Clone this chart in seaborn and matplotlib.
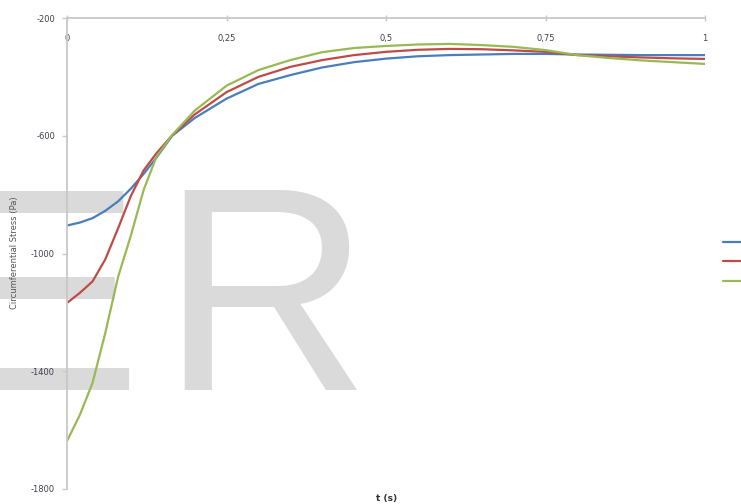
import numpy as np
import pandas as pd
import matplotlib
matplotlib.use("Agg")
import matplotlib.pyplot as plt
import seaborn as sns

# time (s) and circumferential stress (Pa)
t = [0, 0.02, 0.04, 0.06, 0.08, 0.1, 0.12, 0.14, 0.165, 0.2, 0.25, 0.3,
     0.35, 0.4, 0.45, 0.5, 0.55, 0.6, 0.65, 0.7, 0.75, 0.8, 0.85, 0.9, 0.95, 1.0]
blue = [-905, -895, -880, -855, -823, -780, -730, -675, -600, -540, -474, -424,
        -394, -368, -350, -338, -330, -326, -324, -322, -322, -324, -325, -326, -326, -326]
red = [-1168, -1134, -1095, -1020, -915, -805, -718, -660, -598, -528, -452, -400,
       -366, -343, -326, -315, -308, -305, -306, -310, -315, -326, -330, -334, -337, -339]
green = [-1637, -1549, -1440, -1270, -1080, -940, -785, -672, -597, -515, -430, -377,
         -343, -316, -302, -295, -290, -288, -292, -298, -309, -326, -336, -344, -350, -356]

cases = ["a", "b", "c"]
colors = ["#4a7ebb", "#be4b48", "#98b954"]

df = pd.concat([
    pd.DataFrame({"t": t, "stress": v, "case": c})
    for v, c in zip([blue, red, green], cases)
])

sns.set_style("white")
plt.rcParams["font.family"] = ["DejaVu Sans"]
plt.rcParams["axes.unicode_minus"] = False

fig = plt.figure(figsize=(7.41, 5.04), dpi=100)
ax = fig.add_axes([67/741, 1-489/504, (705-67)/741, (489-18)/504])
ax.set_facecolor("none")

# faint watermark behind the chart
ax.text(-53/741, 1-390/504, "E", transform=fig.transFigure, fontsize=209,
        family="Liberation Sans", color="#dadada", va="baseline", zorder=0.1, clip_on=False)
ax.text(160/741, 1-390/504, "R", transform=fig.transFigure, fontsize=209,
        family="Liberation Sans", color="#dadada", va="baseline", zorder=0.1, clip_on=False)

sns.lineplot(data=df, x="t", y="stress", hue="case", palette=colors, linewidth=1.6, ax=ax)

ax.set_xlim(0, 1)
ax.set_ylim(-1800, -200)
ax.set_xticks([0, 0.25, 0.5, 0.75, 1])
ax.set_xticklabels(["0", "0,25", "0,5", "0,75", "1"])
ax.set_yticks([-200, -600, -1000, -1400, -1800])
ax.set_xlabel("")
ax.set_ylabel("")

for s in ["bottom", "right"]:
    ax.spines[s].set_visible(False)
for s in ["top", "left"]:
    ax.spines[s].set_color("#c8c8c8")
    ax.spines[s].set_linewidth(1.3)

ax.tick_params(axis="x", top=True, labeltop=True, bottom=False, labelbottom=False,
               direction="inout", length=5, width=1, color="#c8c8c8", pad=-20.5,
               labelsize=6, labelcolor="#404050")
ax.tick_params(axis="y", left=True, direction="out", length=3.6, width=1, color="#c8c8c8",
               pad=5, labelsize=6, labelcolor="#404050")

fig.text(15/741, 1-253/504, "Circumferential Stress (Pa)", rotation=90, fontsize=6,
         color="#555555", ha="center", va="center")
fig.text(387/741, 1-499/504, "t (s)", fontsize=6.5, fontweight="bold",
         color="#333333", ha="center", va="center")

handles, _ = ax.get_legend_handles_labels()
ax.legend(handles, ["", "", ""], loc="upper left", bbox_to_anchor=(723/741, 1-237/504),
          bbox_transform=fig.transFigure, frameon=False, fontsize=7, handlelength=2,
          borderpad=0, borderaxespad=0, labelspacing=1.0, handletextpad=0.3)

fig.savefig("out.png", dpi=100)
